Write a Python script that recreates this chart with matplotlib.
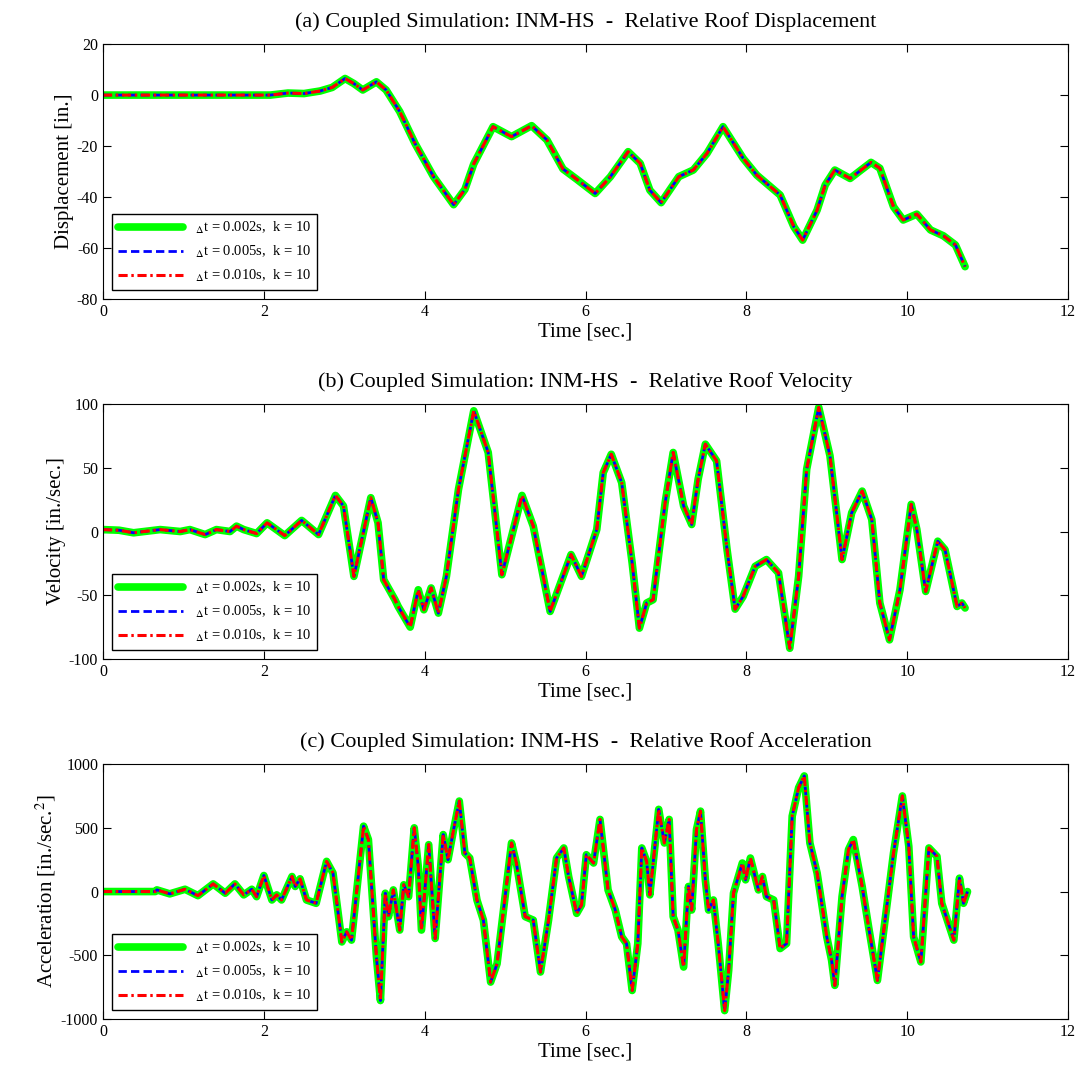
import matplotlib
matplotlib.use("Agg")
import matplotlib.pyplot as plt

plt.rcParams['font.family'] = ['Liberation Serif', 'DejaVu Serif']
plt.rcParams['mathtext.fontset'] = 'stix'
plt.rcParams['axes.unicode_minus'] = False

# ---- data (time [s], value) ----
disp_t = [0.0, 0.5, 1.0, 1.5, 2.08, 2.3, 2.5, 2.70, 2.85, 3.01, 3.12, 3.23, 3.40, 3.52, 3.69,
          3.88, 4.11, 4.36, 4.50, 4.61, 4.85, 5.08, 5.33, 5.52, 5.72, 5.89, 6.12, 6.31,
          6.53, 6.68, 6.80, 6.94, 7.16, 7.34, 7.51, 7.71, 7.96, 8.13, 8.42, 8.59, 8.70,
          8.88, 8.98, 9.10, 9.29, 9.55, 9.66, 9.83, 9.95, 10.12, 10.29, 10.45, 10.60, 10.72]
disp_v = [0.0, 0.0, 0.0, 0.0, 0.0, 0.8, 0.6, 1.6, 3.0, 6.5, 4.5, 2.0, 5.2, 2.0, -6.5,
          -19.0, -32.0, -43.0, -37.0, -27.0, -12.4, -16.3, -12.0, -17.6, -29.0, -33.0, -38.6, -32.0,
          -22.2, -26.8, -37.3, -42.2, -32.0, -29.4, -22.9, -12.4, -24.8, -31.4, -39.2, -51.6, -56.9,
          -45.1, -35.3, -29.4, -32.7, -26.4, -28.7, -43.8, -49.0, -46.7, -52.9, -55.2, -58.8, -67.3]

vel_t = [0.0, 0.2, 0.38, 0.71, 0.96, 1.08, 1.27, 1.41, 1.58, 1.66, 1.75, 1.91, 2.04, 2.26,
         2.47, 2.68, 2.89, 2.99, 3.12, 3.33, 3.42, 3.49, 3.63, 3.67, 3.82, 3.92, 3.99, 4.08,
         4.17, 4.27, 4.42, 4.61, 4.79, 4.96, 5.21, 5.35, 5.56, 5.82, 5.95, 6.14, 6.22, 6.32,
         6.45, 6.58, 6.67, 6.76, 6.84, 6.99, 7.09, 7.22, 7.32, 7.40, 7.49, 7.63, 7.76, 7.86,
         7.96, 8.11, 8.25, 8.40, 8.54, 8.65, 8.75, 8.90, 9.04, 9.19, 9.31, 9.44, 9.56, 9.66,
         9.78, 9.91, 10.05, 10.12, 10.23, 10.38, 10.47, 10.62, 10.68, 10.72]
vel_v = [1.5, 1.0, -1.0, 1.5, 0.0, 1.5, -2.4, 1.5, 0.0, 4.2, 1.5, -1.6, 6.8, -3.2,
         8.7, -2.4, 28.3, 20.0, -35.2, 26.5, 6.8, -37.8, -53.5, -58.8, -75.0, -45.7, -61.4, -44.3,
         -64.0, -35.2, 33.0, 94.7, 62.0, -33.9, 28.3, 4.2, -62.7, -18.1, -35.2, 1.6, 46.2, 60.6,
         38.3, -24.7, -75.8, -56.1, -53.5, 22.6, 62.0, 20.0, 5.5, 40.9, 68.5, 55.4, -14.2, -60.9,
         -50.9, -27.3, -22.0, -32.5, -91.6, -35.2, 48.8, 97.4, 59.3, -22.0, 14.7, 31.7, 9.4, -56.1,
         -85.0, -45.7, 21.3, 1.6, -47.0, -7.6, -14.2, -58.8, -56.1, -60.0]

acc_t = [0.0, 0.4, 0.65, 0.67, 0.83, 1.02, 1.18, 1.37, 1.52, 1.64, 1.75, 1.85, 1.91, 2.00,
         2.10, 2.16, 2.22, 2.35, 2.39, 2.45, 2.53, 2.65, 2.78, 2.86, 2.97, 3.03, 3.09, 3.24,
         3.30, 3.40, 3.45, 3.51, 3.55, 3.61, 3.69, 3.74, 3.80, 3.87, 3.92, 3.96, 4.05, 4.13,
         4.23, 4.29, 4.36, 4.43, 4.50, 4.56, 4.65, 4.73, 4.82, 4.90, 5.08, 5.14, 5.25, 5.35,
         5.44, 5.54, 5.64, 5.73, 5.79, 5.89, 5.95, 6.01, 6.10, 6.18, 6.28, 6.37, 6.45, 6.51,
         6.58, 6.65, 6.70, 6.76, 6.80, 6.85, 6.91, 6.98, 7.04, 7.09, 7.15, 7.22, 7.28, 7.32,
         7.38, 7.43, 7.49, 7.53, 7.59, 7.65, 7.73, 7.78, 7.84, 7.95, 7.99, 8.05, 8.15, 8.20,
         8.25, 8.34, 8.42, 8.50, 8.57, 8.65, 8.72, 8.79, 8.88, 9.00, 9.06, 9.10, 9.19, 9.27,
         9.33, 9.44, 9.52, 9.63, 9.73, 9.83, 9.94, 10.02, 10.08, 10.17, 10.27, 10.37, 10.43,
         10.58, 10.65, 10.70, 10.75]
acc_v = [0, 0, 0, 13, -18, 18, -32, 60, -13, 60, -26, 18, -40, 126,
         -66, -26, -66, 118, 40, 100, -66, -92, 237, 145, -395, -316, -381, 513,
         408, -513, -855, -13, -197, 13, -302, 53, -40, 500, 197, -302, 368, -368,
         447, 250, 487, 710, 302, 263, -66, -224, -710, -566, 381, 224, -197, -224,
         -631, -224, 263, 342, 118, -171, -105, 289, 224, 566, 13, -145, -355, -408,
         -776, -408, 342, 237, -26, 276, 645, 381, 566, -197, -302, -592, 40, -145,
         487, 631, 92, -145, -66, -408, -934, -618, -13, 224, 92, 263, 13, 118,
         -40, -66, -447, -408, 592, 815, 907, 381, 145, -355, -539, -736, -40, 329,
         408, 40, -276, -697, -197, 302, 750, 355, -355, -552, 342, 276, -92,
         -381, 105, -92, 0]

labels = [r'$_{\Delta}$t = 0.002s,  k = 10',
          r'$_{\Delta}$t = 0.005s,  k = 10',
          r'$_{\Delta}$t = 0.010s,  k = 10']

panels = [
    (disp_t, disp_v, '(a) Coupled Simulation: INM-HS  -  Relative Roof Displacement',
     'Displacement [in.]', (-80, 20), [-80, -60, -40, -20, 0, 20]),
    (vel_t, vel_v, '(b) Coupled Simulation: INM-HS  -  Relative Roof Velocity',
     'Velocity [in./sec.]', (-100, 100), [-100, -50, 0, 50, 100]),
    (acc_t, acc_v, '(c) Coupled Simulation: INM-HS  -  Relative Roof Acceleration',
     r'Acceleration [in./sec.$^2$]', (-1000, 1000), [-1000, -500, 0, 500, 1000]),
]

fig = plt.figure(figsize=(10.81, 10.78), dpi=100)
bottoms = [0.7226, 0.3887, 0.0547]

for (t, v, title, ylab, ylim, yticks), b in zip(panels, bottoms):
    ax = fig.add_axes([0.0953, b, 0.8927, 0.2365])
    ax.plot(t, v, color='#00ff00', lw=5.5, ls='-', label=labels[0],
            solid_capstyle='round', solid_joinstyle='round')
    ax.plot(t, v, color='blue', lw=2.0, ls='--', dashes=(3, 1.5), label=labels[1],
            dash_joinstyle='round')
    ax.plot(t, v, color='red', lw=2.2, ls='-.', dashes=(3, 1.2, 0.8, 1.2), label=labels[2],
            dash_joinstyle='round')
    ax.set_xlim(0, 12)
    ax.set_ylim(*ylim)
    ax.set_xticks(range(0, 13, 2))
    ax.set_yticks(yticks)
    ax.tick_params(direction='in', top=True, right=True, labelsize=11.5, length=6)
    ax.set_title(title, fontsize=16, pad=12)
    ax.set_xlabel('Time [sec.]', fontsize=15, labelpad=2)
    ax.set_ylabel(ylab, fontsize=15, labelpad=2)
    leg = ax.legend(loc='lower left', fontsize=10.5, handlelength=4.5, fancybox=False,
                    edgecolor='black', framealpha=1, borderaxespad=0.6,
                    labelspacing=0.55)
    leg.get_frame().set_linewidth(1.0)

fig.savefig('out.png', dpi=100)
